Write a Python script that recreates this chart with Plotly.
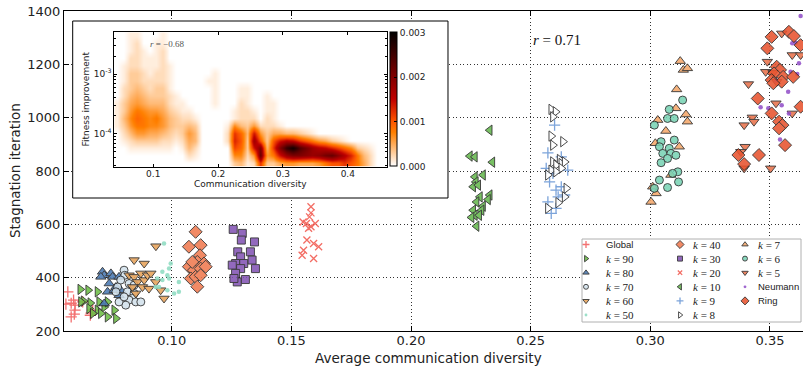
import math
import plotly.graph_objects as go

# ---------------- data ----------------
SERIES = ["Global", "k=90", "k=80", "k=70", "k=60", "k=50",
          "k=40", "k=30", "k=20", "k=10", "k=9", "k=8",
          "k=7", "k=6", "k=5", "Neumann", "Ring"]

GLOBAL_X = [0.0558, 0.0590, 0.0596, 0.0596, 0.0593, 0.0628, 0.0660, 0.0670, 0.0566, 0.0580, 0.0663, 0.0580]
GLOBAL_Y = [301, 316, 297, 278, 263, 309, 259, 278, 347, 304, 267, 253]
K90_X = [0.0618, 0.0651, 0.0632, 0.0621, 0.0660, 0.0655, 0.0690, 0.0697, 0.0690, 0.0718, 0.0732, 0.0704, 0.0732, 0.0760, 0.0670, 0.0767]
K90_Y = [356, 353, 312, 309, 305, 284, 347, 309, 278, 290, 309, 266, 253, 278, 266, 247]
K80_X = [0.0711, 0.0718, 0.0746, 0.0753, 0.0780, 0.0732, 0.0760, 0.0767, 0.0780, 0.0787, 0.0739, 0.0704, 0.0718]
K80_Y = [422, 409, 416, 403, 403, 347, 353, 365, 334, 353, 378, 403, 303]
K70_X = [0.0801, 0.0804, 0.0787, 0.0822, 0.0774, 0.0767, 0.0815, 0.0843, 0.0843, 0.0836, 0.0822, 0.0850, 0.0871, 0.0808, 0.0780, 0.0801]
K70_Y = [428, 409, 391, 378, 365, 347, 347, 372, 341, 322, 316, 309, 309, 297, 309, 328]
K60_X = [0.0843, 0.0885, 0.0934, 0.0822, 0.0843, 0.0871, 0.0857, 0.0885, 0.0899, 0.0913, 0.0878, 0.0836, 0.0905, 0.0954, 0.0968, 0.0850, 0.0933]
K60_Y = [466, 453, 518, 409, 403, 416, 384, 391, 409, 416, 365, 365, 359, 353, 322, 341, 384]
K50_X = [0.0968, 0.0996, 0.0989, 0.0961, 0.0982, 0.0961, 0.0947, 0.0982, 0.1030, 0.1030, 0.1010, 0.0989, 0.0933, 0.0940]
K50_Y = [528, 453, 434, 422, 409, 391, 365, 353, 384, 347, 341, 397, 365, 397]
K40_X = [0.1100, 0.1072, 0.1121, 0.1118, 0.1107, 0.1135, 0.1072, 0.1093, 0.1121, 0.1080, 0.1100, 0.1121, 0.1107, 0.1142, 0.1086]
K40_Y = [572, 516, 522, 484, 459, 453, 441, 428, 434, 397, 403, 409, 366, 441, 459]
K30_X = [0.1257, 0.1295, 0.1291, 0.1346, 0.1276, 0.1329, 0.1288, 0.1267, 0.1301, 0.1336, 0.1350, 0.1253, 0.1288, 0.1267, 0.1274, 0.1308, 0.1260]
K30_Y = [581, 566, 541, 534, 497, 497, 478, 453, 453, 466, 434, 447, 434, 416, 384, 393, 397]
K20_X = [0.1582, 0.1582, 0.1576, 0.1549, 0.1582, 0.1572, 0.1565, 0.1593, 0.1614, 0.1551, 0.1545, 0.1593, 0.1563, 0.1600]
K20_Y = [666, 643, 628, 609, 591, 585, 541, 528, 516, 503, 484, 472, 603, 603]
K10_X = [0.2329, 0.2246, 0.2267, 0.2340, 0.2301, 0.2267, 0.2271, 0.2260, 0.2281, 0.2329, 0.2288, 0.2322, 0.2274, 0.2301, 0.2260, 0.2295, 0.2267, 0.2253, 0.2285, 0.2274]
K10_Y = [953, 856, 853, 833, 785, 778, 759, 741, 747, 710, 703, 693, 684, 668, 653, 653, 634, 626, 634, 593]
K9_X = [0.2600, 0.2572, 0.2628, 0.2565, 0.2655, 0.2579, 0.2606, 0.2628, 0.2615, 0.2572, 0.2606, 0.2586, 0.2642, 0.2593]
K9_Y = [972, 868, 853, 810, 803, 759, 728, 741, 703, 684, 660, 641, 710, 791]
K8_X = [0.2586, 0.2604, 0.2593, 0.2586, 0.2593, 0.2635, 0.2593, 0.2621, 0.2628, 0.2642, 0.2606, 0.2586, 0.2628, 0.2572, 0.2606, 0.2649, 0.2642, 0.2615, 0.2572]
K8_Y = [1031, 1022, 1003, 931, 897, 910, 834, 843, 828, 834, 822, 803, 810, 785, 797, 735, 703, 681, 660]
K7_X = [0.3125, 0.3138, 0.3155, 0.3110, 0.3107, 0.3149, 0.3155, 0.3065, 0.3021, 0.3121, 0.3086, 0.3024, 0.3010, 0.3031, 0.3003]
K7_Y = [1212, 1179, 1185, 1106, 1035, 1012, 985, 950, 904, 891, 785, 716, 741, 991, 684]
K6_X = [0.3135, 0.3079, 0.3072, 0.3100, 0.3017, 0.3045, 0.3038, 0.3079, 0.3052, 0.3086, 0.3107, 0.3072, 0.3045, 0.3100, 0.3115, 0.3093, 0.3038, 0.3072, 0.3118, 0.3017]
K6_Y = [1066, 1031, 997, 997, 972, 910, 891, 885, 866, 866, 859, 847, 831, 916, 797, 791, 766, 738, 759, 735]
K5_X = [0.3549, 0.3593, 0.3489, 0.3482, 0.3513, 0.3410, 0.3525, 0.3593, 0.3426, 0.3433, 0.3392, 0.3396, 0.3378, 0.3503, 0.3392, 0.3528, 0.3628]
K5_Y = [1316, 1235, 1210, 1172, 1168, 1126, 1054, 1016, 1001, 985, 972, 891, 872, 810, 810, 1135, 1235]
NEUMANN_X = [0.3628, 0.3593, 0.3607, 0.3621, 0.3586, 0.3614, 0.3525, 0.3576, 0.3549, 0.3461, 0.3493, 0.3579, 0.3542]
NEUMANN_Y = [1381, 1279, 1281, 1204, 1172, 1164, 1138, 1097, 1047, 1039, 1035, 1016, 918]
RING_X = [0.3507, 0.3579, 0.3600, 0.3489, 0.3628, 0.3528, 0.3542, 0.3517, 0.3507, 0.3555, 0.3549, 0.3597, 0.3449, 0.3628, 0.3507, 0.3538, 0.3552, 0.3538, 0.3563, 0.3368, 0.3454, 0.3392, 0.3514]
RING_Y = [1303, 1322, 1306, 1260, 1272, 1191, 1179, 1166, 1141, 1153, 1135, 1153, 1072, 1041, 1016, 985, 972, 960, 897, 860, 860, 826, 1129]

SERIES_X = [GLOBAL_X, K90_X, K80_X, K70_X, K60_X, K50_X, K40_X, K30_X, K20_X,
            K10_X, K9_X, K8_X, K7_X, K6_X, K5_X, NEUMANN_X, RING_X]
SERIES_Y = [GLOBAL_Y, K90_Y, K80_Y, K70_Y, K60_Y, K50_Y, K40_Y, K30_Y, K20_Y,
            K10_Y, K9_Y, K8_Y, K7_Y, K6_Y, K5_Y, NEUMANN_Y, RING_Y]

X_TICKS = [0.10, 0.15, 0.20, 0.25, 0.30, 0.35]
Y_TICKS = [200, 400, 600, 800, 1000, 1200, 1400]

# inset 2D histogram (density, units of 1e-4); columns: diversity bins 0.04..0.46 step 0.01,
# rows: log10(fitness improvement) bins from -2.3 (top) down to -4.55, step 0.125
HEAT_CHARS = "0123456789ABCDEFGHIJKLMNOPQRSTU"
HEAT_ROWS = [
    "00110001",
    "00120011",
    "00121012",
    "00221112",
    "012211121",
    "0133212210000001",
    "0133222210000011",
    "023432331000000100011",
    "024543332100000100011001",
    "1356544421100001000210011",
    "1368766532110000001221011",
    "1479878643221000001222021",
    "13688776433430000174362221",
    "024665543236400002C94E635544321",
    "012333322125400002DA3IA3AEGFCA865321",
    "001111111014200000B93EK4CKQTOLIGFDB97321",
    "0000000000021000007726M68EIKKJIJLMJGD842",
    "0000000000000000003412C3356655568AACA852",
]
HEAT_TICKS = [0.0, 0.001, 0.002, 0.003]

# ---------------- layout helpers ----------------
W, H = 803, 372
ML, MR, MT, MB = 64, 0, 11, 41
PW, PH = W - ML - MR, H - MT - MB


def px(x):
    return (x - ML) / PW


def py(y):
    return (H - MB - y) / PH


EDGE = "rgba(30,30,30,0.9)"
STYLES = {
    "Global": dict(symbol="cross-thin", size=8, color="#f25d5d", line=dict(color="#f25d5d", width=1.3)),
    "k=90": dict(symbol="triangle-right", size=9, color="#6cbd45", line=dict(color=EDGE, width=1)),
    "k=80": dict(symbol="triangle-up", size=9, color="#4a79b3", line=dict(color=EDGE, width=1)),
    "k=70": dict(symbol="circle", size=8, color="#d3e2ec", line=dict(color=EDGE, width=1)),
    "k=60": dict(symbol="triangle-down", size=9, color="#e6a25a", line=dict(color=EDGE, width=1)),
    "k=50": dict(symbol="circle", size=4.5, color="#8fdcc2", line=dict(width=0)),
    "k=40": dict(symbol="diamond", size=10, color="#f07a50", line=dict(color=EDGE, width=1)),
    "k=30": dict(symbol="square", size=8, color="#8455b5", line=dict(color=EDGE, width=1)),
    "k=20": dict(symbol="x-thin", size=7, color="#f25a50", line=dict(color="#f25a50", width=1.3)),
    "k=10": dict(symbol="triangle-left", size=9, color="#66b84e", line=dict(color=EDGE, width=1)),
    "k=9": dict(symbol="cross-thin", size=8, color="#6b98d6", line=dict(color="#6b98d6", width=1.3)),
    "k=8": dict(symbol="triangle-right", size=9, color="white", line=dict(color=EDGE, width=1)),
    "k=7": dict(symbol="triangle-up", size=9, color="#f5a86a", line=dict(color=EDGE, width=1)),
    "k=6": dict(symbol="circle", size=8, color="#79d3b5", line=dict(color=EDGE, width=1)),
    "k=5": dict(symbol="triangle-down", size=9, color="#e8724c", line=dict(color=EDGE, width=1)),
    "Neumann": dict(symbol="circle", size=4.5, color="#9352c9", line=dict(width=0)),
    "Ring": dict(symbol="diamond", size=10, color="#e8542f", line=dict(color=EDGE, width=1)),
}


def gist_heat_r(t):
    x = 1 - t
    r = min(1.0, 1.5 * x)
    g = max(0.0, min(1.0, 2 * x - 1))
    b = max(0.0, min(1.0, 4 * x - 3))
    return "rgb(%d,%d,%d)" % (round(r * 255), round(g * 255), round(b * 255))


COLORSCALE = [[i / 20, gist_heat_r(i / 20)] for i in range(21)]

fig = go.Figure()

# ---------------- main scatter (subplot xy) ----------------
for name, xs, ys in zip(SERIES, SERIES_X, SERIES_Y):
    st = STYLES[name]
    fig.add_trace(go.Scatter(
        x=xs, y=ys, mode="markers", name=name, showlegend=False,
        xaxis="x", yaxis="y", opacity=0.88,
        marker=dict(symbol=st["symbol"], size=st["size"], color=st["color"], line=st["line"]),
        hoverinfo="skip"))

# ---------------- inset frame (subplot x2y2, pixel-unit axes) ----------------
BOX = (72.7, 448.0, 21.0, 198.0)  # left, right, top, bottom in px
fig.add_trace(go.Scatter(
    x=[BOX[0], BOX[1], BOX[1], BOX[0], BOX[0]], y=[BOX[3], BOX[3], BOX[2], BOX[2], BOX[3]],
    xaxis="x2", yaxis="y2", mode="lines", fill="toself", fillcolor="white",
    line=dict(color="black", width=1), showlegend=False, hoverinfo="skip"))

# ---------------- inset heatmap (subplot x3y3) ----------------
z = [[HEAT_CHARS.index(c) * 1e-4 for c in row.ljust(42, "0")] for row in HEAT_ROWS]
fig.add_trace(go.Heatmap(
    z=z, x0=0.045, dx=0.01, y0=-2.3625, dy=-0.125, zsmooth="best",
    xaxis="x3", yaxis="y3", zmin=0, zmax=0.003, colorscale=COLORSCALE,
    hoverinfo="skip",
    colorbar=dict(x=px(390), xanchor="left", y=py(99.4), yanchor="middle",
                  len=133.5, lenmode="pixels", thickness=7, thicknessmode="pixels",
                  xpad=0, ypad=0, outlinewidth=1, outlinecolor="black",
                  tickvals=HEAT_TICKS, ticktext=["%.3f" % v for v in HEAT_TICKS],
                  ticks="inside", ticklen=3, tickcolor="black",
                  tickfont=dict(family="DejaVu Sans", size=9, color="#222"))))

# ---------------- hand-made legend (subplot x4y4, pixel-unit axes) ----------------
LBOX = (582.0, 801.0, 239.0, 322.0)
fig.add_trace(go.Scatter(
    x=[LBOX[0], LBOX[1], LBOX[1], LBOX[0], LBOX[0]], y=[LBOX[3], LBOX[3], LBOX[2], LBOX[2], LBOX[3]],
    xaxis="x4", yaxis="y4", mode="lines", fill="toself", fillcolor="white",
    line=dict(color="#b0b0b0", width=1), showlegend=False, hoverinfo="skip"))

LEG_MARK_X = [586, 680, 745]
LEG_TEXT_X = [604, 691, 756]
LEG_ROW0, LEG_DY = 244.5, 14.1
annotations = []
for i, name in enumerate(SERIES):
    col, row = i // 6, i % 6
    yy = LEG_ROW0 + row * LEG_DY
    st = STYLES[name]
    fig.add_trace(go.Scatter(
        x=[LEG_MARK_X[col]], y=[yy], xaxis="x4", yaxis="y4", mode="markers",
        showlegend=False, cliponaxis=False, hoverinfo="skip", opacity=0.88,
        marker=dict(symbol=st["symbol"], size=st["size"] * 0.62, color=st["color"], line=st["line"])))
    if name.startswith("k="):
        txt = "<i>k</i> = " + name[2:]
        fnt = dict(family="Liberation Serif", size=11, color="#222")
    else:
        txt = name
        fnt = dict(family="Liberation Sans", size=9.5, color="#222")
    annotations.append(dict(x=LEG_TEXT_X[col], y=yy, xref="x4", yref="y4", text=txt,
                            showarrow=False, xanchor="left", yanchor="middle", font=fnt))

annotations += [
    dict(x=0.25, y=1290, xref="x", yref="y", text="<i>r</i> = 0.71", showarrow=False,
         xanchor="left", yanchor="middle", font=dict(family="Liberation Serif", size=15, color="#111")),
    dict(x=0.092, y=-2.5, xref="x3", yref="y3", text="<i>r</i> = −0.68", showarrow=False,
         xanchor="left", yanchor="middle", font=dict(family="Liberation Serif", size=9, color="#555")),
    dict(x=px(15), y=py(170), xref="paper", yref="paper", text="Stagnation iteration",
         textangle=-90, showarrow=False, xanchor="center", yanchor="middle",
         font=dict(family="DejaVu Sans", size=13.5, color="#222")),
    dict(x=px(428), y=py(358), xref="paper", yref="paper", text="Average communication diversity",
         showarrow=False, xanchor="center", yanchor="middle",
         font=dict(family="DejaVu Sans", size=13.5, color="#222")),
    dict(x=px(250), y=py(184), xref="paper", yref="paper", text="Communication diversity",
         showarrow=False, xanchor="center", yanchor="middle",
         font=dict(family="DejaVu Sans", size=9, color="#222")),
    dict(x=px(85), y=py(99.5), xref="paper", yref="paper", text="Fitness improvement",
         textangle=-90, showarrow=False, xanchor="center", yanchor="middle",
         font=dict(family="DejaVu Sans", size=9, color="#222")),
]

minor_vals = []
for e in (-5, -4, -3):
    for m in range(2, 10):
        v = math.log10(m * 10 ** e)
        if -4.55 < v < -2.3:
            minor_vals.append(v)

MAIN_FONT = dict(family="DejaVu Sans", size=13, color="#222")
SMALL_FONT = dict(family="DejaVu Sans", size=9, color="#222")
fig.update_layout(
    width=W, height=H, margin=dict(l=ML, r=MR, t=MT, b=MB),
    paper_bgcolor="white", plot_bgcolor="rgba(0,0,0,0)", showlegend=False,
    xaxis=dict(domain=[0, 1], anchor="y", range=[0.055, 0.3638], tickvals=X_TICKS,
               ticktext=["%.2f" % v for v in X_TICKS], tickfont=MAIN_FONT, ticklabelstandoff=-3,
               showline=True, linecolor="black", linewidth=1, mirror="ticks",
               ticks="inside", ticklen=5, tickcolor="black",
               showgrid=True, gridcolor="#333333", gridwidth=1, griddash="1px,2.5px", zeroline=False),
    yaxis=dict(domain=[0, 1], anchor="x", range=[200, 1400], tickvals=Y_TICKS, tickfont=MAIN_FONT,
               showline=True, linecolor="black", linewidth=1, ticks="inside", ticklen=5, tickcolor="black",
               showgrid=True, gridcolor="#333333", gridwidth=1, griddash="1px,2.5px", zeroline=False),
    xaxis2=dict(domain=[px(BOX[0] - 2), px(BOX[1] + 2)], anchor="y2", range=[BOX[0] - 2, BOX[1] + 2],
                visible=False, fixedrange=True),
    yaxis2=dict(domain=[py(BOX[3] + 2), py(BOX[2] - 2)], anchor="x2", range=[BOX[3] + 2, BOX[2] - 2],
                visible=False, fixedrange=True),
    xaxis3=dict(domain=[px(114.3), px(386.7)], anchor="y3", range=[0.04, 0.46],
                tickvals=[0.1, 0.2, 0.3, 0.4], ticktext=["0.1", "0.2", "0.3", "0.4"],
                tickfont=SMALL_FONT, ticklabelstandoff=-2,
                showline=True, linecolor="black", linewidth=1, mirror="ticks",
                ticks="inside", ticklen=3, tickcolor="black",
                showgrid=True, gridcolor="#aaaaaa", gridwidth=1, griddash="1px,1.5px", zeroline=False),
    yaxis3=dict(domain=[py(166.7), py(32.3)], anchor="x3", range=[-4.55, -2.3],
                tickvals=[-4, -3], ticktext=["10<sup>-4</sup>", "10<sup>-3</sup>"],
                tickfont=SMALL_FONT,
                showline=True, linecolor="black", linewidth=1, mirror="ticks",
                ticks="inside", ticklen=3, tickcolor="black",
                minor=dict(tickvals=minor_vals, ticks="inside", ticklen=1.5, tickcolor="black", showgrid=False),
                showgrid=True, gridcolor="#aaaaaa", gridwidth=1, griddash="1px,1.5px", zeroline=False),
    xaxis4=dict(domain=[px(LBOX[0] - 2), 1], anchor="y4", range=[LBOX[0] - 2, W],
                visible=False, fixedrange=True),
    yaxis4=dict(domain=[py(LBOX[3] + 2), py(LBOX[2] - 2)], anchor="x4", range=[LBOX[3] + 2, LBOX[2] - 2],
                visible=False, fixedrange=True),
    annotations=annotations,
)

fig.write_html("out.html", config={"displayModeBar": False},
               post_script="document.body.style.margin='0px';document.body.style.overflow='hidden';")
